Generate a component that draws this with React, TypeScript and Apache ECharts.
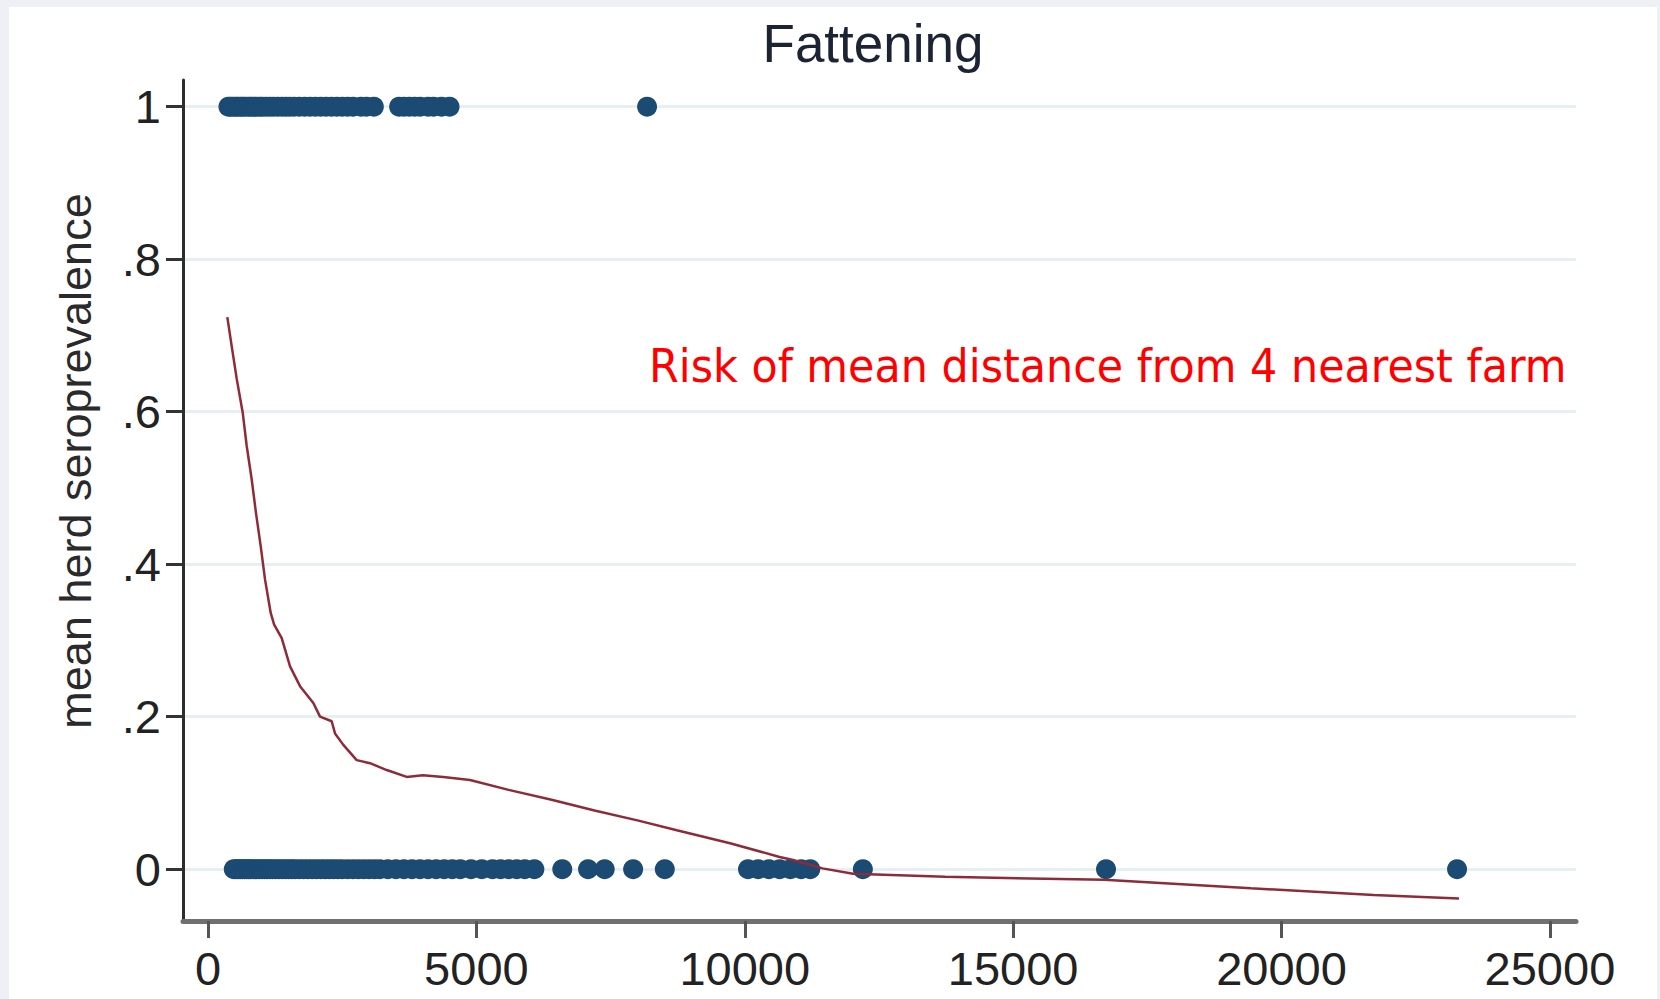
import React, { useEffect, useRef } from "react";
import * as echarts from "echarts";

// y = 1 (seropositive herds): mean distance to 4 nearest farms
const posDistances = [380, 420, 470, 520, 560, 610, 650, 700, 760, 800, 850, 900, 960, 1010, 1080, 1150, 1220, 1300, 1380, 1450, 1520, 1600, 1700, 1800, 1900, 2000, 2100, 2200, 2300, 2400, 2500, 2600, 2700, 2850, 2950, 3090, 3560, 3650, 3750, 3850, 3950, 4100, 4200, 4350, 4500, 8180];
// y = 0 herds
const negDistances = [480, 520, 560, 600, 640, 680, 720, 760, 800, 850, 900, 950, 1000, 1050, 1100, 1150, 1200, 1260, 1320, 1380, 1440, 1500, 1560, 1620, 1700, 1780, 1860, 1940, 2020, 2100, 2180, 2260, 2340, 2420, 2500, 2600, 2700, 2800, 2900, 3000, 3100, 3200, 3350, 3500, 3650, 3800, 3950, 4100, 4250, 4400, 4550, 4700, 4900, 5100, 5300, 5450, 5600, 5750, 5900, 6080, 6600, 7080, 7390, 7920, 8510, 10060, 10250, 10450, 10650, 10850, 11050, 11220, 12200, 16730, 23270];

// lowess smooth
const smoothX = [360, 441, 535, 646, 721, 814, 894, 981, 1062, 1168, 1230, 1373, 1528, 1714, 1962, 2087, 2304, 2366, 2521, 2770, 3018, 3329, 3702, 4000, 4384, 4881, 5600, 6400, 7200, 8000, 8734, 9726, 10649, 10900, 11448, 12017, 13731, 16694, 19431, 21716, 23306];
const smoothY = [0.724, 0.686, 0.643, 0.599, 0.555, 0.511, 0.467, 0.424, 0.38, 0.336, 0.321, 0.303, 0.266, 0.24, 0.218, 0.2, 0.194, 0.178, 0.163, 0.143, 0.139, 0.13, 0.121, 0.123, 0.121, 0.117, 0.104, 0.091, 0.077, 0.064, 0.051, 0.034, 0.016, 0.012, 0.001, -0.006, -0.01, -0.014, -0.025, -0.034, -0.0385];

const xTickValues = [0, 5000, 10000, 15000, 20000, 25000];
const yTickValues = [0, 0.2, 0.4, 0.6, 0.8, 1];
const yTickLabels = ["0", ".2", ".4", ".6", ".8", "1"];

const titleText = "Fattening";
const yAxisTitle = "mean herd seroprevalence";
const annotation = "Risk of mean distance from 4 nearest farm";

const FONT = "'Liberation Sans', Arial, sans-serif";

export default function App() {
  const ref = useRef<HTMLDivElement>(null);
  useEffect(() => {
    if (!ref.current) return;
    const chart = echarts.init(ref.current, null, { renderer: "svg" });
    const scatterData = [
      ...posDistances.map((d) => [d, 1]),
      ...negDistances.map((d) => [d, 0]),
    ];
    const lineData = smoothX.map((x, i) => [x, smoothY[i]]);
    chart.setOption({
      animation: false,
      backgroundColor: "#eff0f5",
      title: {
        text: titleText,
        left: 873,
        top: 17,
        textAlign: "center",
        padding: 0,
        textStyle: { fontFamily: FONT, fontSize: 53, fontWeight: "normal", color: "#1c2433" },
      },
      grid: { left: 183, right: 84, top: 80, bottom: 78, containLabel: false },
      xAxis: {
        type: "value",
        min: -466,
        max: 25486,
        axisLine: { show: true, onZero: false, lineStyle: { color: "#707070", width: 5 } },
        axisTick: { show: true, customValues: xTickValues, length: 17, lineStyle: { color: "#555", width: 3 } },
        axisLabel: {
          customValues: xTickValues,
          fontFamily: FONT,
          fontSize: 47,
          color: "#222",
          margin: 24,
          formatter: (v: number) => String(Math.round(v)),
        },
        splitLine: { show: false },
      },
      yAxis: {
        type: "value",
        min: -0.068,
        max: 1.035,
        axisLine: { show: true, onZero: false, lineStyle: { color: "#2d2d2d", width: 3 } },
        axisTick: { show: true, customValues: yTickValues, length: 17, lineStyle: { color: "#333", width: 3 } },
        axisLabel: {
          customValues: yTickValues,
          fontFamily: FONT,
          fontSize: 47,
          color: "#222",
          margin: 22,
          formatter: (v: number) => {
            const i = yTickValues.findIndex((t) => Math.abs(t - v) < 1e-9);
            return i >= 0 ? yTickLabels[i] : "";
          },
        },
        splitLine: { show: true, lineStyle: { color: "#e8eff2", width: 3 } },
      },
      graphic: [
        {
          type: "rect",
          z: -10,
          shape: { x: 9, y: 7, width: 1648, height: 1000 },
          style: { fill: "#ffffff" },
          silent: true,
        },
        {
          type: "text",
          x: 75,
          y: 461,
          rotation: Math.PI / 2,
          style: {
            text: yAxisTitle,
            font: `45px ${FONT}`,
            fill: "#2a2a2a",
            align: "center",
            verticalAlign: "middle",
          },
        },
        {
          type: "text",
          x: 649,
          y: 366,
          scaleX: 0.912,
          style: {
            text: annotation,
            font: "47px 'DejaVu Sans', sans-serif",
            fill: "#ff0000",
            align: "left",
            verticalAlign: "middle",
          },
        },
      ],
      series: [
        {
          type: "scatter",
          data: scatterData,
          symbol: "circle",
          symbolSize: 20,
          itemStyle: { color: "#1b4a72", opacity: 1 },
          z: 2,
        },
        {
          type: "line",
          data: lineData,
          showSymbol: false,
          symbol: "none",
          lineStyle: { color: "#8e2b38", width: 2.5 },
          z: 3,
        },
      ],
    });
    return () => chart.dispose();
  }, []);
  return (
    <div
      ref={ref}
      style={{ position: "fixed", left: 0, top: 0, width: 1660, height: 999 }}
    />
  );
}
